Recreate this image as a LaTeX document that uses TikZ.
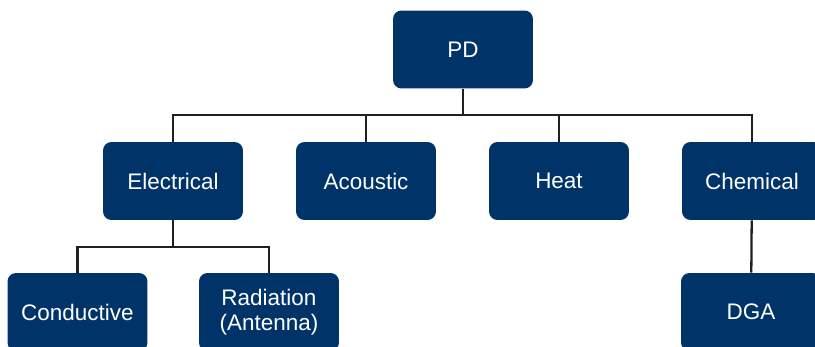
\documentclass[tikz,border=0pt]{standalone}
\usepackage{fontspec}
\setmainfont{Liberation Sans}
\usetikzlibrary{positioning}

\definecolor{boxblue}{RGB}{0,52,104}
\definecolor{linegray}{RGB}{35,31,32}

\tikzset{
  every box/.style={fill=boxblue, text=white, rounded corners=0.17cm,
    minimum width=2.8cm, minimum height=1.56cm, align=center,
    font=\fontsize{12.8}{14.5}\selectfont},
  tree line/.style={draw=linegray, line width=1.3pt}
}

\begin{document}
\begin{tikzpicture}[x=0.02cm, y=-0.02cm]

\useasboundingbox (0,0) rectangle (815,347);
\clip (0,0) rectangle (815,347);

% top
\node [every box] (pd) at (463,49.5) {PD};

% second row
\foreach \m/\l [count=\i from 0] in {elec/Electrical, acou/Acoustic, heat/Heat, chem/Chemical}
  \node [every box] (\m) at (173+\i*193,181) {\l};

% third row
\node [every box] (cond) at (77.5,312) {Conductive};
\node [every box] (rad) at (269,312) {Radiation\\(Antenna)};
\node [every box] (dga) at (751,312) {DGA};

% lines from top to second row
\coordinate (split) at (463,115);
\draw [tree line] (pd) -- (split);
\draw [tree line] (elec.north) |- (split) -| (chem.north);
\foreach \m in {acou,heat}
  \draw [tree line] (\m.north) -- (\m.north |- split);

% lines from second row to third row
\coordinate (split2) at (173,247);
\draw [tree line] (elec) -- (split2);
\draw [tree line] (cond.north) |- (split2) -| (rad.north);
\draw [tree line] (chem) -- (dga);

\end{tikzpicture}
\end{document}
